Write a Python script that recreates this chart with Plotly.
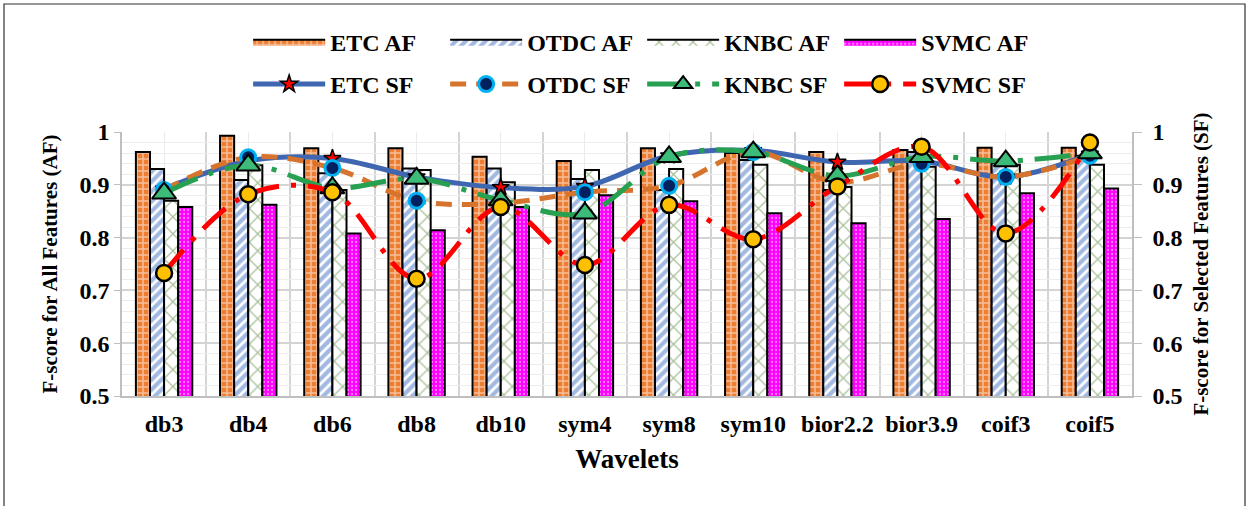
import plotly.graph_objects as go

categories = ["db3", "db4", "db6", "db8", "db10", "sym4", "sym8", "sym10",
              "bior2.2", "bior3.9", "coif3", "coif5"]

etc_af = [0.962, 0.993, 0.969, 0.969, 0.953, 0.945, 0.969, 0.960, 0.962, 0.966, 0.970, 0.970]
otdc_af = [0.930, 0.909, 0.922, 0.931, 0.931, 0.911, 0.890, 0.947, 0.890, 0.962, 0.941, 0.955]
knbc_af = [0.870, 0.937, 0.890, 0.928, 0.905, 0.928, 0.930, 0.938, 0.896, 0.934, 0.938, 0.938]
svmc_af = [0.858, 0.862, 0.808, 0.814, 0.858, 0.880, 0.869, 0.846, 0.827, 0.835, 0.884, 0.893]

etc_sf = [0.892, 0.945, 0.950, 0.915, 0.895, 0.897, 0.955, 0.965, 0.943, 0.945, 0.915, 0.958]
otdc_sf = [0.890, 0.952, 0.932, 0.870, 0.865, 0.886, 0.898, 0.962, 0.905, 0.940, 0.915, 0.955]
knbc_sf = [0.884, 0.937, 0.894, 0.912, 0.871, 0.846, 0.953, 0.962, 0.917, 0.953, 0.945, 0.960]
svmc_sf = [0.733, 0.882, 0.886, 0.722, 0.858, 0.748, 0.862, 0.797, 0.897, 0.972, 0.808, 0.980]

x = list(range(len(categories)))
FONT = "Liberation Serif"

fig = go.Figure()

bar_specs = [
    ("ETC AF", etc_af, dict(shape="+", fgcolor="white", bgcolor="#ED7D31", size=6, solidity=0.45)),
    ("OTDC AF", otdc_af, dict(shape="/", fgcolor="#4472C4", bgcolor="white", size=7, solidity=0.6)),
    ("KNBC AF", knbc_af, dict(shape="x", fgcolor="#548235", bgcolor="white", size=12, solidity=0.2)),
    ("SVMC AF", svmc_af, dict(shape=".", fgcolor="white", bgcolor="#FF00FF", size=4, solidity=0.25)),
]
for name, vals, pat in bar_specs:
    fig.add_trace(go.Bar(
        x=x, y=vals, name=name, showlegend=False,
        marker=dict(color=pat["bgcolor"], pattern=pat, line=dict(color="black", width=2)),
    ))
# legend-only swatches for the bar series
for name, vals, pat in bar_specs:
    fig.add_trace(go.Scatter(
        x=[None], y=[None], name=name, legend="legend", mode="lines",
        fill="toself", fillcolor=pat["bgcolor"], fillpattern=pat,
        line=dict(color="black", width=2),
    ))

line_specs = [
    ("ETC SF", etc_sf, dict(color="#3F66B0", width=5, dash="solid"),
     dict(symbol="star", size=13, color="#FF0000", line=dict(color="black", width=1.5))),
    ("OTDC SF", otdc_sf, dict(color="#D6742E", width=5, dash="16px,10px"),
     dict(symbol="circle", size=15, color="#002060", line=dict(color="#00B0F0", width=3))),
    ("KNBC SF", knbc_sf, dict(color="#27A052", width=5, dash="36px,12px,5px,12px"),
     dict(symbol="triangle-up", size=21, color="#3DBB78", line=dict(color="black", width=2))),
    ("SVMC SF", svmc_sf, dict(color="#FF0000", width=5, dash="30px,12px,5px,12px"),
     dict(symbol="circle", size=16, color="#FFC000", line=dict(color="black", width=2.5))),
]
for name, vals, ln, mk in line_specs:
    fig.add_trace(go.Scatter(
        x=x, y=vals, name=name, yaxis="y2", legend="legend2",
        mode="lines+markers", line=dict(shape="spline", smoothing=1, **ln), marker=mk,
    ))

tickfont = dict(family=FONT, size=24, color="black", weight="bold")
legfont = dict(family=FONT, size=24, color="black", weight="bold")

fig.update_layout(
    width=1248, height=506,
    margin=dict(l=122, r=116, t=132, b=110),
    paper_bgcolor="white", plot_bgcolor="white",
    font=dict(family=FONT, color="black", weight="bold"),
    barmode="group", bargap=0.33, bargroupgap=0.0,
    showlegend=True,
    legend=dict(orientation="h", x=0.515, xanchor="center", y=1.34, yanchor="middle",
                font=legfont, itemwidth=72, entrywidth=110, entrywidthmode="pixels",
                bgcolor="rgba(0,0,0,0)", traceorder="normal"),
    legend2=dict(orientation="h", x=0.515, xanchor="center", y=1.18, yanchor="middle",
                 font=legfont, itemwidth=72, entrywidth=110, entrywidthmode="pixels",
                 bgcolor="rgba(0,0,0,0)", traceorder="normal"),
    xaxis=dict(
        range=[-0.5, len(categories) - 0.5], tickmode="array", tickvals=x, ticktext=categories,
        tickfont=tickfont, showgrid=True, gridcolor="#EBEBEB", gridwidth=1,
        minor=dict(tick0=0.5, dtick=1, showgrid=True, gridcolor="#D4D4D4", gridwidth=1.5),
        showline=True, linecolor="#BFBFBF", linewidth=1.5, ticks="", ticklabelstandoff=5,
        zeroline=False,
        title=dict(text="Wavelets", font=dict(family=FONT, size=27, color="black", weight="bold"),
                   standoff=14),
    ),
    yaxis=dict(
        range=[0.5, 1.0], dtick=0.1, tick0=0.5, tickfont=tickfont,
        showgrid=True, gridcolor="#D4D4D4", gridwidth=1.5,
        minor=dict(dtick=0.02, showgrid=True, gridcolor="#EDEDED", gridwidth=1),
        showline=True, linecolor="#BFBFBF", linewidth=1.5, ticks="outside", ticklen=6,
        tickcolor="#BFBFBF", zeroline=False,
        title=dict(text="F-score for All Features (AF)",
                   font=dict(family=FONT, size=21, color="black", weight="bold"), standoff=16),
    ),
    yaxis2=dict(
        range=[0.5, 1.0], dtick=0.1, tick0=0.5, tickfont=tickfont, overlaying="y", side="right",
        showgrid=False, showline=True, linecolor="#BFBFBF", linewidth=1.5,
        ticks="outside", ticklen=8, tickcolor="#BFBFBF", zeroline=False, ticklabelstandoff=6,
        title=dict(text="F-score for Selected Features (SF)",
                   font=dict(family=FONT, size=21, color="black", weight="bold"), standoff=12),
    ),
    shapes=[dict(type="rect", xref="paper", yref="paper",
                 x0=(4 - 122) / 1010, x1=(1245 - 122) / 1010,
                 y0=(396 - 520) / 264, y1=(396 - 4) / 264,
                 line=dict(color="#303030", width=1.2), fillcolor="rgba(0,0,0,0)", layer="below")],
)

fig.write_html("out.html")
